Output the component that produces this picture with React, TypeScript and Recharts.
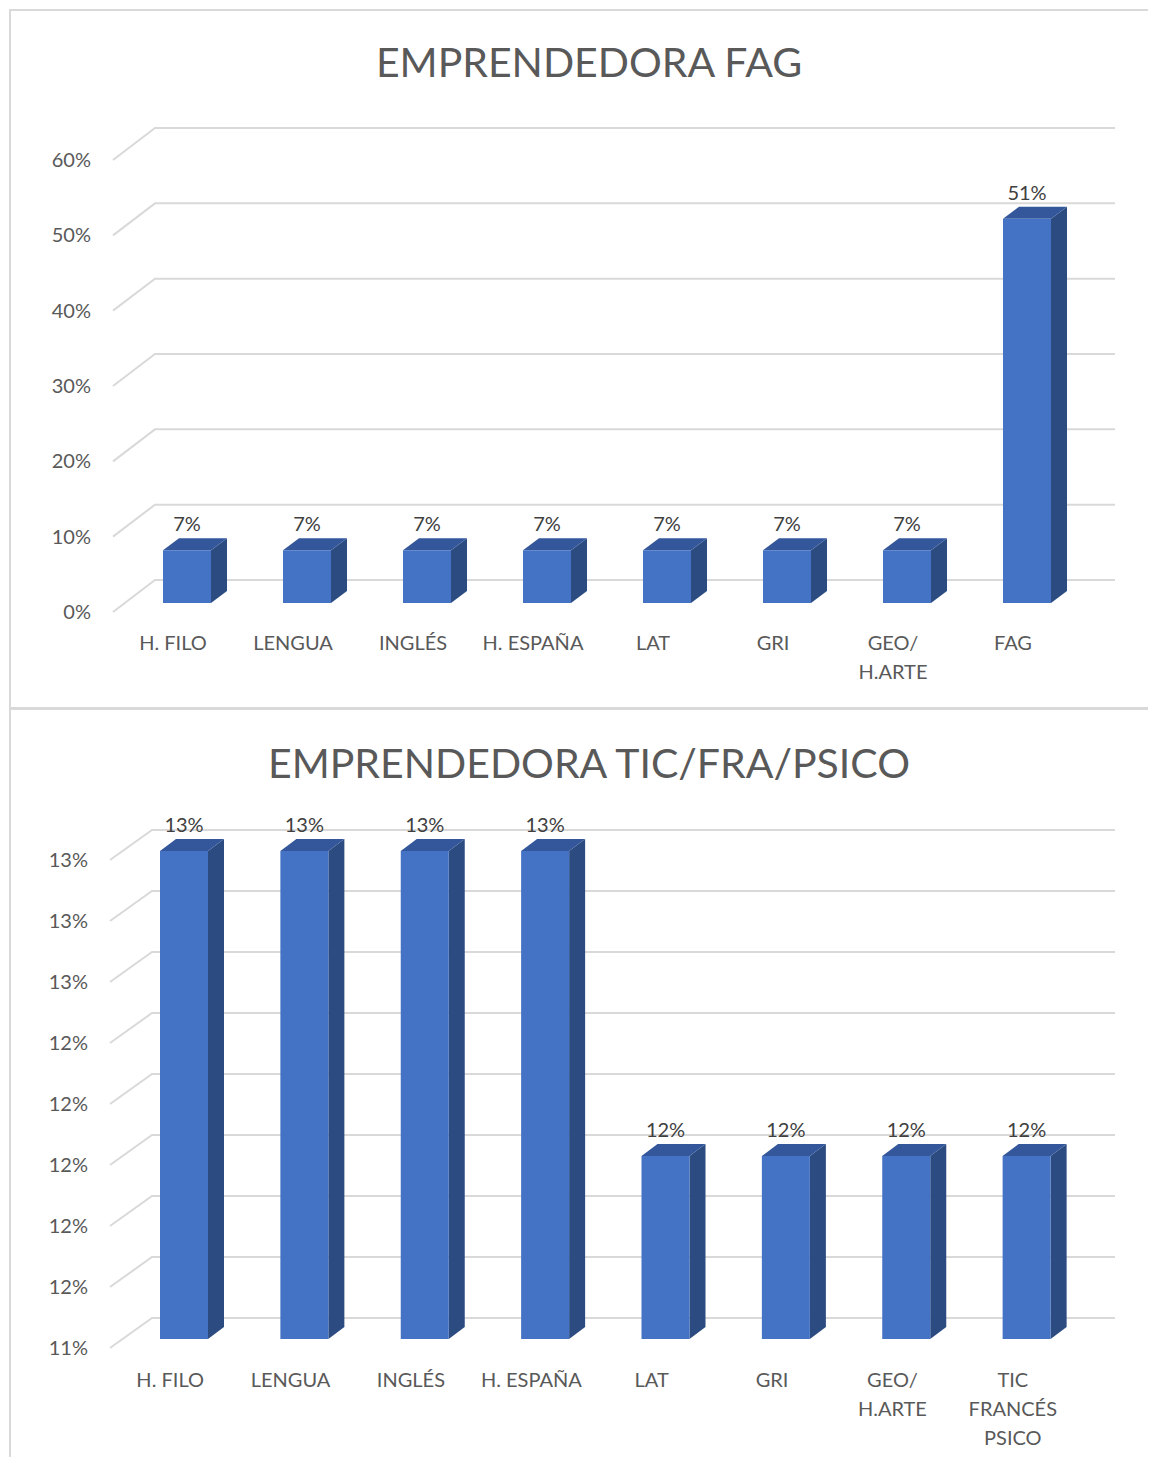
import React from "react"
import { Bar, BarChart, CartesianGrid, LabelList, XAxis, YAxis } from "recharts"

// chart 1
const fagCategories = ["H. FILO", "LENGUA", "INGLÉS", "H. ESPAÑA", "LAT", "GRI", "GEO/\nH.ARTE", "FAG"]
const fagValues = [0.07, 0.07, 0.07, 0.07, 0.07, 0.07, 0.07, 0.51]
const fagTicks = [0, 0.1, 0.2, 0.3, 0.4, 0.5, 0.6]

// chart 2
const ticCategories = ["H. FILO", "LENGUA", "INGLÉS", "H. ESPAÑA", "LAT", "GRI", "GEO/\nH.ARTE", "TIC\nFRANCÉS\nPSICO"]
const ticValues = [0.13, 0.13, 0.13, 0.13, 0.12, 0.12, 0.12, 0.12]
const ticTicks = [0.114, 0.116, 0.118, 0.12, 0.122, 0.124, 0.126, 0.128, 0.13]

const FONT = "Lato, 'Noto Sans', sans-serif"
const GRID = "#d9d9d9"
const TEXT = "#595959"

// bar sits a bit behind the front plane, then has its own depth
const SHIFT_X = 14
const SHIFT_Y = -9
const DEPTH_X = 16
const DEPTH_Y = -12

const pct = (v: number) => `${Math.round(v * 100)}%`

function Box3D(props: any) {
  const { x, y, width, height } = props
  if (!height || height <= 0) return null
  const fx = x + SHIFT_X
  const fy = y + SHIFT_Y
  const bx = fx + width
  const side = `${bx},${fy} ${bx + DEPTH_X},${fy + DEPTH_Y} ${bx + DEPTH_X},${fy + DEPTH_Y + height} ${bx},${fy + height}`
  const top = `${fx},${fy} ${fx + DEPTH_X},${fy + DEPTH_Y} ${bx + DEPTH_X},${fy + DEPTH_Y} ${bx},${fy}`
  return (
    <g>
      <polygon points={side} fill="#2c4b80" />
      <polygon points={top} fill="#33579a" />
      <rect x={fx} y={fy} width={width} height={height} fill="#4472c4" />
    </g>
  )
}

function ValueLabel(props: any) {
  const { x, y, width, value } = props
  return (
    <text x={Number(x) + Number(width) / 2 + SHIFT_X} y={Number(y) - 28} textAnchor="middle"
      fontSize={20} fontFamily={FONT} fill="#404040">
      {pct(value)}
    </text>
  )
}

function CategoryTick(props: any) {
  const { x, y, payload, baseDy } = props
  const lines = String(payload.value).split("\n")
  return (
    <text x={x} y={y + baseDy} textAnchor="middle" fontSize={20} fontFamily={FONT} fill={TEXT}>
      {lines.map((l, i) => (
        <tspan key={i} x={x} dy={i === 0 ? 0 : 29}>{l}</tspan>
      ))}
    </text>
  )
}

interface PanelProps {
  title: string
  categories: string[]
  values: number[]
  ticks: number[]
  top: number
  height: number
  boxTop: number
  boxHeight: number
  titleY: number
  plotLeft: number
  plotWidth: number
  plotHeight: number
  floorDy: number
  labelDy: number
}

function Panel(p: PanelProps) {
  const data = p.categories.map((name, i) => ({ name, value: p.values[i] }))
  const plotTop = 152
  const plotBottom = plotTop + p.plotHeight
  const gridLine = (g: any) => (
    <path key={`g${g.index}`} d={`M${g.x1},${g.y1}L${g.x1 + 42},${g.y1 - p.floorDy}L${g.x2 + 42},${g.y1 - p.floorDy}`}
      stroke={GRID} strokeWidth={2} fill="none" />
  )
  return (
    <div style={{ position: "absolute", left: 0, top: p.top, width: 1148, height: p.height }}>
      <div style={{ position: "absolute", left: 1, top: p.boxTop, width: 1200, height: p.boxHeight,
        border: `2px solid ${GRID}`, boxSizing: "border-box" }} />
      <svg width={1148} height={100} style={{ position: "absolute", left: 0, top: 0 }}>
        <text x={581} y={p.titleY} textAnchor="middle" fontSize={41} fontFamily={FONT} fill={TEXT}>{p.title}</text>
      </svg>
      <div style={{ position: "absolute", left: 0, top: 0 }}>
        <BarChart width={1148} height={p.height} data={data}
          margin={{ top: plotTop, right: 1148 - p.plotLeft - p.plotWidth, left: 0, bottom: 0 }}>
          <CartesianGrid vertical={false} horizontal={gridLine} />
          <XAxis dataKey="name" interval={0} tickLine={false} axisLine={false} tickSize={0} tickMargin={0}
            height={p.height - plotBottom} tick={<CategoryTick baseDy={p.labelDy} />} />
          <YAxis type="number" domain={[p.ticks[0], p.ticks[p.ticks.length - 1]]} ticks={p.ticks}
            width={p.plotLeft} tickLine={false} axisLine={false} tickSize={0} tickMargin={22}
            tickFormatter={pct} tick={{ fill: TEXT, fontSize: 20, fontFamily: FONT }} />
          <Bar dataKey="value" barSize={48} shape={<Box3D />} isAnimationActive={false}>
            <LabelList dataKey="value" content={<ValueLabel />} />
          </Bar>
        </BarChart>
      </div>
    </div>
  )
}

export default function App() {
  return (
    <div style={{ position: "relative", width: 1148, height: 1449, overflow: "hidden", background: "#fff" }}>
      <Panel title="EMPRENDEDORA FAG" categories={fagCategories} values={fagValues} ticks={fagTicks}
        top={0} height={700} boxTop={1} boxHeight={700} titleY={69}
        plotLeft={105} plotWidth={960} plotHeight={452} floorDy={32} labelDy={38} />
      <Panel title="EMPRENDEDORA TIC/FRA/PSICO" categories={ticCategories} values={ticValues} ticks={ticTicks}
        top={700} height={749} boxTop={0} boxHeight={800} titleY={70}
        plotLeft={102} plotWidth={963} plotHeight={488} floorDy={30} labelDy={39} />
    </div>
  )
}
